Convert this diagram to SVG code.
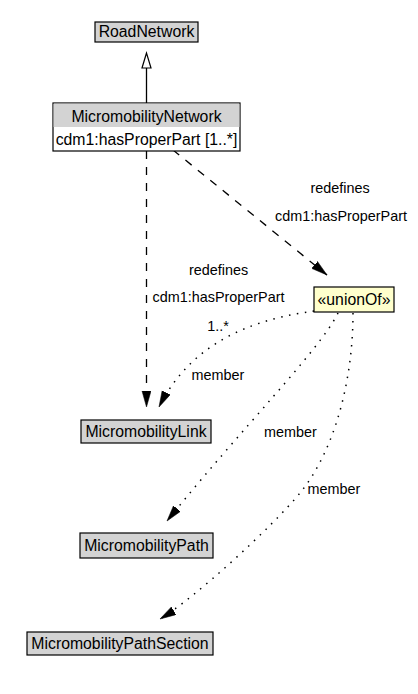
<svg xmlns="http://www.w3.org/2000/svg" width="418" height="694" viewBox="0 0 418 694">
<style>
.box{fill:#d3d3d3;stroke:#000;stroke-width:1.2}
.wbox{fill:#fff;stroke:#000;stroke-width:1.2}
.ybox{fill:#ffffcc;stroke:#000;stroke-width:1.2}
.nt{font-family:"Liberation Sans",Arial,sans-serif;font-size:15.8px;fill:#000;text-anchor:middle}
.et{font-family:"Liberation Sans",Arial,sans-serif;font-size:14.4px;fill:#000;text-anchor:middle}
.dash{fill:none;stroke:#000;stroke-width:1.3;stroke-dasharray:8,8}
.dot{fill:none;stroke:#000;stroke-width:1.5;stroke-dasharray:1.5,6.5}
.solid{fill:none;stroke:#000;stroke-width:1.3}
</style>
<defs>
<marker id="arr" markerUnits="userSpaceOnUse" markerWidth="17" markerHeight="10" refX="16" refY="4.5" orient="auto" viewBox="0 0 17 10">
<path d="M0,0 L16,4.5 L0,9 z" fill="#000" stroke="#000" stroke-width="0.5"/>
</marker>
</defs>
<rect width="418" height="694" fill="#fff"/>
<g id="connectors">
<line class="solid" x1="146.5" y1="103" x2="146.5" y2="68"/>
<polygon points="146.5,53 142,68 151,68" fill="#fff" stroke="#000" stroke-width="1.2"/>
<path class="dash" d="M146.5,151 L146.5,407" marker-end="url(#arr)"/>
<path class="dash" d="M173,150 L327,275" marker-end="url(#arr)"/>
<path class="dot" d="M314,311 C265,318 195,335 159,407" marker-end="url(#arr)"/>
<path class="dot" d="M338,313 C320,350 240,430 167,521" marker-end="url(#arr)"/>
<path class="dot" d="M353,313 C353,380 335,450 300,493 C272,527 195,598 160,619" marker-end="url(#arr)"/>
<text class="et" x="340" y="193">redefines</text>
<text class="et" x="341" y="221">cdm1:hasProperPart</text>
<text class="et" x="218.5" y="275">redefines</text>
<text class="et" x="218.5" y="302">cdm1:hasProperPart</text>
<text class="et" x="218" y="331">1..*</text>
<text class="et" x="218" y="380">member</text>
<text class="et" x="290.5" y="437">member</text>
<text class="et" x="334" y="494">member</text>
</g>
<g id="RoadNetwork">
<rect class="box" x="95" y="22" width="103" height="20"/>
<text class="nt" x="146.5" y="37">RoadNetwork</text>
</g>
<g id="MicromobilityNetwork">
<rect class="wbox" x="53" y="103" width="187" height="48"/>
<rect x="53.6" y="103.6" width="185.8" height="23.4" fill="#d3d3d3"/>
<text class="nt" x="146.5" y="121.5">MicromobilityNetwork</text>
<text class="nt" x="146.5" y="145">cdm1:hasProperPart [1..*]</text>
</g>
<g id="unionOf">
<rect class="ybox" x="314" y="287" width="80" height="25"/>
<text class="nt" x="354" y="305">«unionOf»</text>
</g>
<g id="MicromobilityLink">
<rect class="box" x="81" y="420" width="130" height="23"/>
<text class="nt" x="146" y="437">MicromobilityLink</text>
</g>
<g id="MicromobilityPath">
<rect class="box" x="80" y="533" width="133" height="25"/>
<text class="nt" x="146.5" y="551">MicromobilityPath</text>
</g>
<g id="MicromobilityPathSection">
<rect class="box" x="27" y="632" width="186" height="23"/>
<text class="nt" x="120" y="649">MicromobilityPathSection</text>
</g>
</svg>
